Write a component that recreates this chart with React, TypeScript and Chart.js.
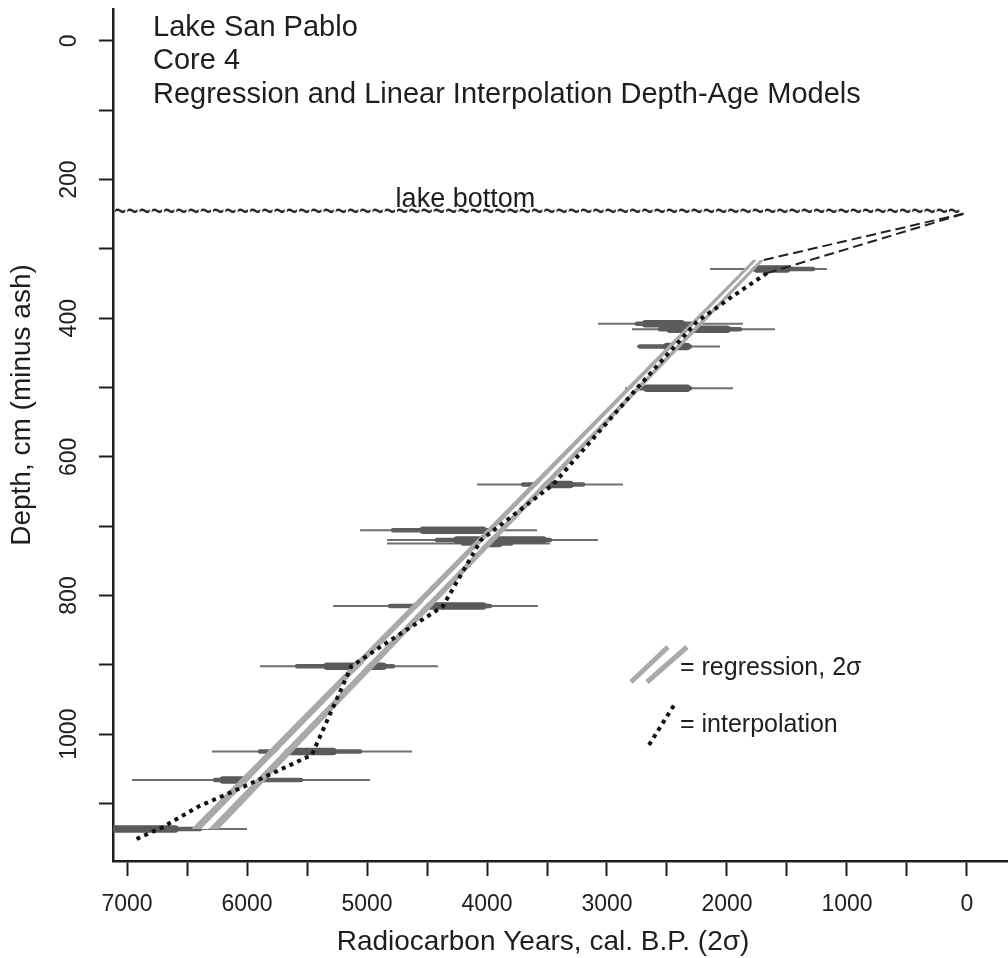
import React, { useEffect, useRef } from 'react';
import { Chart, registerables } from 'chart.js';

Chart.register(...registerables);

const FONT = "'Liberation Sans', Arial, Helvetica, sans-serif";
const INK = '#1e1e1e';

// ---- text ----
const titleLines = ['Lake San Pablo', 'Core 4', 'Regression and Linear Interpolation Depth-Age Models'];
const xAxisTitle = 'Radiocarbon Years, cal. B.P. (2σ)';
const yAxisTitle = 'Depth, cm (minus ash)';
const legendRegression = '= regression, 2σ';
const legendInterpolation = '= interpolation';

// ---- axes ----
const xMin = -342;
const xMax = 7117;
const xTickValues = [0, 500, 1000, 1500, 2000, 2500, 3000, 3500, 4000, 4500, 5000, 5500, 6000, 6500, 7000];
const xLabelValues = [0, 1000, 2000, 3000, 4000, 5000, 6000, 7000];
const yMin = -46;
const yMax = 1183;
const yTickValues = [0, 100, 200, 300, 400, 500, 600, 700, 800, 900, 1000, 1100];
const yLabelValues = [0, 200, 400, 600, 800, 1000];

// ---- lake bottom ----
const lakeBottomDepth = 248;
const lakeBottomEndYear = 0;
const lakeBottomLabel = 'lake bottom';
const lakeBottomLabelYear = 4180;

// ---- dated samples (depth cm, cal. years B.P.) ----
const dateDepths = [329, 408, 416, 441, 501, 640, 706, 720, 725, 815, 902, 1025, 1066, 1137];
const rangeOld = [2142, 3075, 2792, 2750, 2850, 4083, 5058, 4833, 4833, 5283, 5892, 6292, 6958, 7300];
const rangeYoung = [1167, 1867, 1600, 2058, 1950, 2867, 3583, 3075, 3475, 3575, 4408, 4625, 4975, 6000];
const violinOld = [1783, 2750, 2558, 2725, 2725, 3700, 4783, 4417, 4200, 4808, 5583, 5892, 6267, 7300];
const violinYoung = [1283, 2283, 1892, 2308, 2308, 3200, 3975, 3475, 3800, 3975, 4783, 5058, 5550, 6392];
const peakOld = [1750, 2680, 2475, 2500, 2667, 3533, 4533, 4250, 4100, 4533, 5333, 5667, 6200, 7300];
const peakYoung = [1500, 2380, 2000, 2333, 2333, 3308, 4033, 3533, 3900, 4033, 4867, 5283, 5975, 6600];

// ---- regression 2σ band (top / bottom) ----
const regDepths = [316, 1137];
const regAOuter = [1785, 6465];
const regAInner = [1748, 6381];
const regBInner = [1728, 6322];
const regBOuter = [1692, 6235];

// ---- linear interpolation ----
const interpYears = [1667, 1950, 2250, 2750, 3450, 4050, 4370, 4800, 5130, 5460, 6030, 6400, 6700, 6930];
const interpDepths = [335, 368, 405, 501, 640, 720, 816, 864, 902, 1030, 1076, 1104, 1134, 1152];

// ---- dashed connections to lake bottom ----
const dashUpperYears = [1692, 0];
const dashUpperDepths = [316, 248];
const dashLowerYears = [1667, 0];
const dashLowerDepths = [335, 248];

type P = { x: number | null; y: number | null };

function segments(olds: number[], youngs: number[], depths: number[]): P[] {
  const pts: P[] = [];
  depths.forEach((d, i) => {
    pts.push({ x: olds[i], y: d }, { x: youngs[i], y: d }, { x: null, y: null });
  });
  return pts;
}

function band(left: number[], right: number[], depths: number[]): P[] {
  return [
    { x: left[0], y: depths[0] },
    { x: left[1], y: depths[1] },
    { x: right[1], y: depths[1] },
    { x: right[0], y: depths[0] },
  ];
}

function zipPts(xs: number[], ys: number[]): P[] {
  return xs.map((x, i) => ({ x, y: ys[i] }));
}

const annotPlugin = {
  id: 'annot',
  beforeDatasetsDraw(chart: any) {
    const { ctx, chartArea, scales } = chart;
    const x = scales.x;
    const y = scales.y;
    ctx.save();
    const yy = y.getPixelForValue(lakeBottomDepth);
    const xEnd = x.getPixelForValue(lakeBottomEndYear);
    ctx.font = `21px ${FONT}`;
    ctx.fillStyle = '#2a2a2a';
    ctx.textBaseline = 'middle';
    ctx.textAlign = 'left';
    const w = ctx.measureText('~').width;
    const n = Math.floor((xEnd - chartArea.left) / w);
    ctx.translate(chartArea.left + 1, yy);
    ctx.scale(1, 1.8);
    ctx.fillText('~'.repeat(n), 0, 0);
    ctx.restore();
  },
  afterDraw(chart: any) {
    const { ctx, chartArea, scales } = chart;
    const x = scales.x;
    const y = scales.y;
    ctx.save();
    ctx.fillStyle = INK;
    // title
    ctx.font = `29px ${FONT}`;
    ctx.textAlign = 'left';
    ctx.textBaseline = 'alphabetic';
    titleLines.forEach((t, i) => ctx.fillText(t, chartArea.left + 40, chartArea.top + 27 + i * 33.3));

    // lake bottom label
    ctx.font = `27px ${FONT}`;
    ctx.textAlign = 'center';
    ctx.fillText(lakeBottomLabel, x.getPixelForValue(lakeBottomLabelYear), y.getPixelForValue(lakeBottomDepth) - 6);

    // y tick labels (rotated)
    ctx.font = `23px ${FONT}`;
    yLabelValues.forEach((v) => {
      const py = y.getPixelForValue(v);
      ctx.save();
      ctx.translate(chartArea.left - 43, py);
      ctx.rotate(-Math.PI / 2);
      ctx.textAlign = 'center';
      ctx.textBaseline = 'middle';
      ctx.fillText(String(v), 0, 0);
      ctx.restore();
    });

    // axis titles
    ctx.font = `28px ${FONT}`;
    ctx.textAlign = 'center';
    ctx.textBaseline = 'middle';
    ctx.fillText(xAxisTitle, 543, chartArea.bottom + 81);
    ctx.save();
    ctx.translate(22, 405);
    ctx.rotate(-Math.PI / 2);
    ctx.fillText(yAxisTitle, 0, 0);
    ctx.restore();

    // legend
    ctx.strokeStyle = '#a9a9a9';
    ctx.lineWidth = 5;
    ctx.lineCap = 'butt';
    ctx.beginPath();
    ctx.moveTo(631, 682);
    ctx.lineTo(668, 647);
    ctx.moveTo(647, 682);
    ctx.lineTo(687, 647);
    ctx.stroke();
    ctx.strokeStyle = '#111';
    ctx.lineWidth = 4;
    ctx.setLineDash([4, 4.5]);
    ctx.beginPath();
    ctx.moveTo(649, 745);
    ctx.lineTo(676, 702);
    ctx.stroke();
    ctx.setLineDash([]);
    ctx.font = `25px ${FONT}`;
    ctx.textAlign = 'left';
    ctx.textBaseline = 'middle';
    ctx.fillText(legendRegression, 680, 668);
    ctx.fillText(legendInterpolation, 680, 725);
    ctx.restore();
  },
};

export default function App() {
  const ref = useRef<HTMLCanvasElement>(null);

  useEffect(() => {
    document.body.style.margin = '0';
    const canvas = ref.current;
    if (!canvas) return;

    const lineBase = { type: 'line', showLine: true, pointRadius: 0, fill: false, tension: 0, spanGaps: false };

    const datasets: any[] = [
      {
        ...lineBase,
        label: 'dash upper',
        data: zipPts(dashUpperYears, dashUpperDepths),
        borderColor: '#222',
        borderWidth: 2,
        borderDash: [10, 5],
        order: 0,
      },
      {
        ...lineBase,
        label: 'dash lower',
        data: zipPts(dashLowerYears, dashLowerDepths),
        borderColor: '#222',
        borderWidth: 2,
        borderDash: [10, 5],
        order: 0,
      },
      {
        ...lineBase,
        label: 'interpolation',
        data: zipPts(interpYears, interpDepths),
        borderColor: '#111',
        borderWidth: 4,
        borderDash: [4, 4.5],
        borderCapStyle: 'butt',
        order: 1,
      },
      {
        ...lineBase,
        label: 'regression gap',
        data: band(regAInner, regBInner, regDepths),
        borderColor: 'rgba(0,0,0,0)',
        borderWidth: 1,
        backgroundColor: '#ffffff',
        fill: 'shape',
        order: 2,
      },
      {
        ...lineBase,
        label: 'regression A',
        data: band(regAOuter, regAInner, regDepths),
        borderColor: 'rgba(0,0,0,0)',
        borderWidth: 1,
        backgroundColor: '#a9a9a9',
        fill: 'shape',
        order: 3,
      },
      {
        ...lineBase,
        label: 'regression B',
        data: band(regBInner, regBOuter, regDepths),
        borderColor: 'rgba(0,0,0,0)',
        borderWidth: 1,
        backgroundColor: '#a9a9a9',
        fill: 'shape',
        order: 3,
      },
      {
        ...lineBase,
        label: 'peaks',
        data: segments(peakOld, peakYoung, dateDepths),
        borderColor: '#5a5a5a',
        borderWidth: 7.5,
        borderCapStyle: 'round',
        order: 5,
      },
      {
        ...lineBase,
        label: 'violins',
        data: segments(violinOld, violinYoung, dateDepths),
        borderColor: '#5e5e5e',
        borderWidth: 4.5,
        borderCapStyle: 'round',
        order: 6,
      },
      {
        ...lineBase,
        label: 'ranges',
        data: segments(rangeOld, rangeYoung, dateDepths),
        borderColor: '#707070',
        borderWidth: 2,
        order: 7,
      },
    ];

    const axisCommon = {
      type: 'linear',
      reverse: true,
      border: { display: true, color: INK, width: 2.5 },
    };

    const chart = new Chart(canvas, {
      type: 'line',
      data: { datasets },
      plugins: [annotPlugin],
      options: {
        animation: false,
        responsive: false,
        devicePixelRatio: 1,
        events: [],
        layout: { padding: { top: 9, left: 0, right: 0, bottom: 0 } },
        plugins: {
          legend: { display: false },
          tooltip: { enabled: false },
          filler: { drawTime: 'beforeDatasetDraw', propagate: false },
        },
        scales: {
          x: {
            ...axisCommon,
            min: xMin,
            max: xMax,
            afterBuildTicks: (s: any) => {
              s.ticks = xTickValues.map((v) => ({ value: v }));
            },
            afterFit: (s: any) => {
              s.height = 97;
              s.paddingLeft = 0;
              s.paddingRight = 0;
            },
            grid: { display: true, drawOnChartArea: false, drawTicks: true, tickLength: 15, tickWidth: 2, tickColor: INK },
            ticks: {
              autoSkip: false,
              minRotation: 0,
              maxRotation: 0,
              padding: 15,
              color: INK,
              font: { size: 23, family: FONT },
              callback: (v: any) => (xLabelValues.includes(Number(v)) ? String(v) : ''),
            },
          },
          y: {
            ...axisCommon,
            min: yMin,
            max: yMax,
            afterBuildTicks: (s: any) => {
              s.ticks = yTickValues.map((v) => ({ value: v }));
            },
            afterFit: (s: any) => {
              s.width = 113;
              s.paddingTop = 0;
              s.paddingBottom = 0;
            },
            grid: { display: true, drawOnChartArea: false, drawTicks: true, tickLength: 14, tickWidth: 2, tickColor: INK },
            ticks: {
              autoSkip: false,
              display: false,
            },
          },
        },
      } as any,
    } as any);

    return () => chart.destroy();
  }, []);

  return (
    <div style={{ position: 'absolute', left: 0, top: 0, width: 1008, height: 958, background: '#fff' }}>
      <canvas ref={ref} width={1008} height={958} style={{ display: 'block' }} />
    </div>
  );
}
